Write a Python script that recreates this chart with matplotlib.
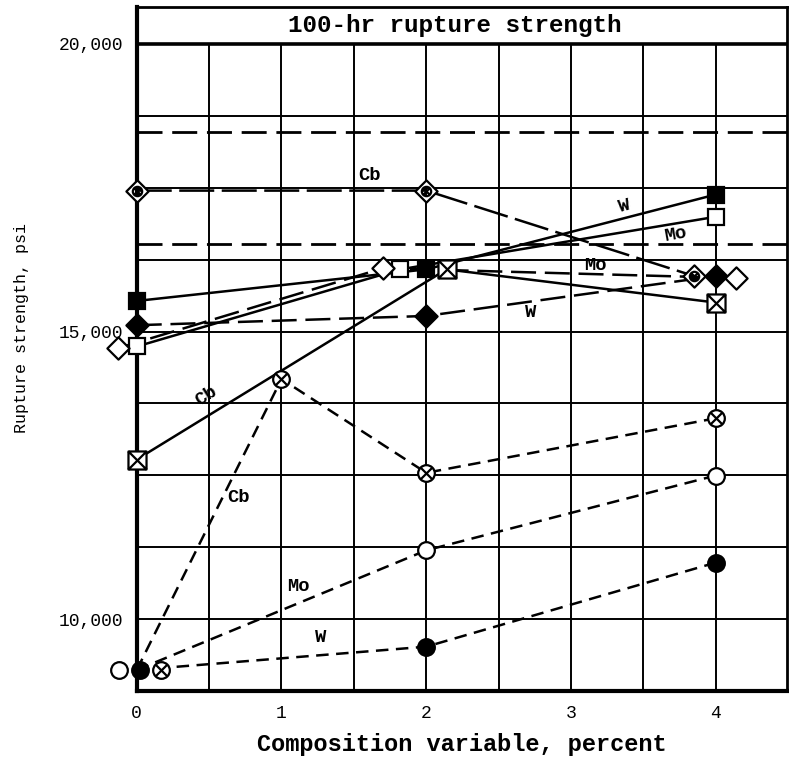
import matplotlib
matplotlib.use("Agg")
import matplotlib.pyplot as plt
from matplotlib.path import Path
import numpy as np

plt.rcParams['font.family'] = ['Liberation Mono', 'DejaVu Sans Mono']

# ---------------- data (psi) ----------------
title_text = "100-hr rupture strength"
xlabel_text = "Composition variable, percent"
ylabel_text = "Rupture strength, psi"
xtick_vals = [0, 1, 2, 3, 4]
ytick_vals = [10000, 15000, 20000]
ytick_labels = ["10,000", "15,000", "20,000"]
ref_lines = [18462, 16515]

# solid lines, square symbols
sq_W_x = [0, 2, 4];      sq_W_y = [15532, 16081, 17382]
sq_Mo_x = [0, 1.82, 4];  sq_Mo_y = [14740, 16081, 16995]
sq_Cb_x = [0, 2.14, 4];  sq_Cb_y = [12775, 16081, 15504]

# long-dash lines, diamond symbols
di_Cb_x = [0, 2, 3.85];       di_Cb_y = [17450, 17450, 15965]
di_W_x = [0, 2, 4];           di_W_y = [15110, 15271, 15965]
di_Mo_x = [-0.13, 1.70, 4.14]; di_Mo_y = [14710, 16100, 15930]

# short-dash lines, circle symbols
ci_Cb_x = [0, 1, 2, 4];   ci_Cb_y = [9116, 14174, 12544, 13492]
ci_Mo_x = [0, 2, 4];      ci_Mo_y = [9116, 11196, 12497]
ci_W_x = [0, 2, 4];       ci_W_y = [9116, 9521, 10983]
# marker positions of the shared base point (drawn side by side)
ci_base_mx = {"Mo": -0.12, "W": 0.02, "Cb": 0.17}

# ---------------- custom markers ----------------
M, L, C = Path.MOVETO, Path.LINETO, Path.CLOSEPOLY
sq_cross = Path([(-1, -1), (1, -1), (1, 1), (-1, 1), (-1, -1),
                 (-1, -1), (1, 1), (-1, 1), (1, -1)],
                [M, L, L, L, C, M, L, M, L])
circ = Path.unit_circle()
circ_cross = Path.make_compound_path(
    circ,
    Path([(-0.7, -0.7), (0.7, 0.7)], [M, L]),
    Path([(-0.7, 0.7), (0.7, -0.7)], [M, L]))
diam = Path([(0, 1), (1, 0), (0, -1), (-1, 0), (0, 1)], [M, L, L, L, C])
small_c = Path(circ.vertices * 0.42, circ.codes)
diam_cross = Path.make_compound_path(
    diam, small_c,
    Path([(-0.3, -0.3), (0.3, 0.3)], [M, L]),
    Path([(-0.3, 0.3), (0.3, -0.3)], [M, L]))

# ---------------- figure ----------------
fig = plt.figure(figsize=(7.89, 7.65), dpi=100)
ax = fig.add_axes([0.1733, 0.0967, 0.8238, 0.8945])
ymin, ymax = 8750, 20647
ax.set_xlim(0, 4.49)
ax.set_ylim(ymin, ymax)

frac20 = (20000 - ymin) / (ymax - ymin)
for v in np.arange(0.5, 4.01, 0.5):
    ax.axvline(v, ymax=frac20, color='k', lw=1.4, zorder=1)
for h in np.arange(10000, 19999, 1250):
    ax.axhline(h, color='k', lw=1.4, zorder=1)
ax.axhline(20000, color='k', lw=2.6, zorder=1)
for r in ref_lines:
    ax.axhline(r, color='k', lw=2.0, ls=(0, (9, 3.5)), zorder=1)

ax.text(0.49, (20323 - ymin) / (ymax - ymin), title_text, transform=ax.transAxes,
        ha='center', va='center', fontsize=17.5, fontweight='bold')

lw = 1.8
kw = dict(color='k', lw=lw, zorder=3, clip_on=False)
mkw = dict(mec='k', mew=1.6, zorder=4, clip_on=False, ls='none')

# squares, solid
ax.plot(sq_W_x, sq_W_y, **kw)
ax.plot(sq_Mo_x, sq_Mo_y, **kw)
ax.plot(sq_Cb_x, sq_Cb_y, **kw)
ax.plot(sq_W_x, sq_W_y, marker='s', ms=12, mfc='k', **mkw)
ax.plot(sq_Mo_x, sq_Mo_y, marker='s', ms=12, mfc='white', **mkw)
ax.plot(sq_Cb_x, sq_Cb_y, marker=sq_cross, ms=13, mfc='white', **mkw)

# diamonds, long dash
dl = (0, (10, 3.5))
ax.plot(di_Cb_x, di_Cb_y, ls=(0, (14, 3)), **kw)
ax.plot(di_W_x, di_W_y, ls=dl, **kw)
ax.plot(di_Mo_x, di_Mo_y, ls=dl, **kw)
ax.plot(di_Cb_x, di_Cb_y, marker=diam_cross, ms=16, mfc='white', **mkw)
ax.plot(di_W_x, di_W_y, marker=diam, ms=16, mfc='k', **mkw)
ax.plot(di_Mo_x, di_Mo_y, marker=diam, ms=16, mfc='white', **mkw)

# circles, short dash
ds = (0, (5, 3))
ax.plot(ci_Cb_x, ci_Cb_y, ls=ds, **kw)
ax.plot(ci_Mo_x, ci_Mo_y, ls=ds, **kw)
ax.plot(ci_W_x, ci_W_y, ls=ds, **kw)
ax.plot([ci_base_mx["Cb"]] + ci_Cb_x[1:], ci_Cb_y, marker=circ_cross, ms=12,
        mfc='white', **mkw)
ax.plot([ci_base_mx["Mo"]] + ci_Mo_x[1:], ci_Mo_y, marker='o', ms=12,
        mfc='white', **mkw)
ax.plot([ci_base_mx["W"]] + ci_W_x[1:], ci_W_y, marker='o', ms=12,
        mfc='k', **mkw)

# in-plot labels
lab = dict(fontsize=13.5, fontweight='bold', ha='center', va='center', zorder=5)
ax.text(1.61, 17720, "Cb", **lab)
ax.text(3.37, 17180, "W", rotation=14, **lab)
ax.text(3.72, 16690, "Mo", rotation=10, **lab)
ax.text(3.17, 16150, "Mo", **lab)
ax.text(2.72, 15330, "W", **lab)
ax.text(0.48, 13880, "Cb", rotation=33, **lab)
ax.text(0.70, 12120, "Cb", **lab)
ax.text(1.12, 10560, "Mo", **lab)
ax.text(1.27, 9680, "W", **lab)

# axes styling
for s in ['left', 'bottom']:
    ax.spines[s].set_linewidth(3)
for s in ['top', 'right']:
    ax.spines[s].set_linewidth(2)
ax.set_xticks(xtick_vals)
ax.set_xticklabels([str(v) for v in xtick_vals], fontsize=13)
ax.set_yticks(ytick_vals)
ax.set_yticklabels(ytick_labels, fontsize=13)
ax.tick_params(length=0, pad=10)
ax.set_xlabel(xlabel_text, fontsize=17, fontweight='bold', labelpad=8)
ax.set_ylabel(ylabel_text, fontsize=12)
ax.yaxis.set_label_coords(-0.165, 0.53)

fig.savefig("out.png", dpi=100)
